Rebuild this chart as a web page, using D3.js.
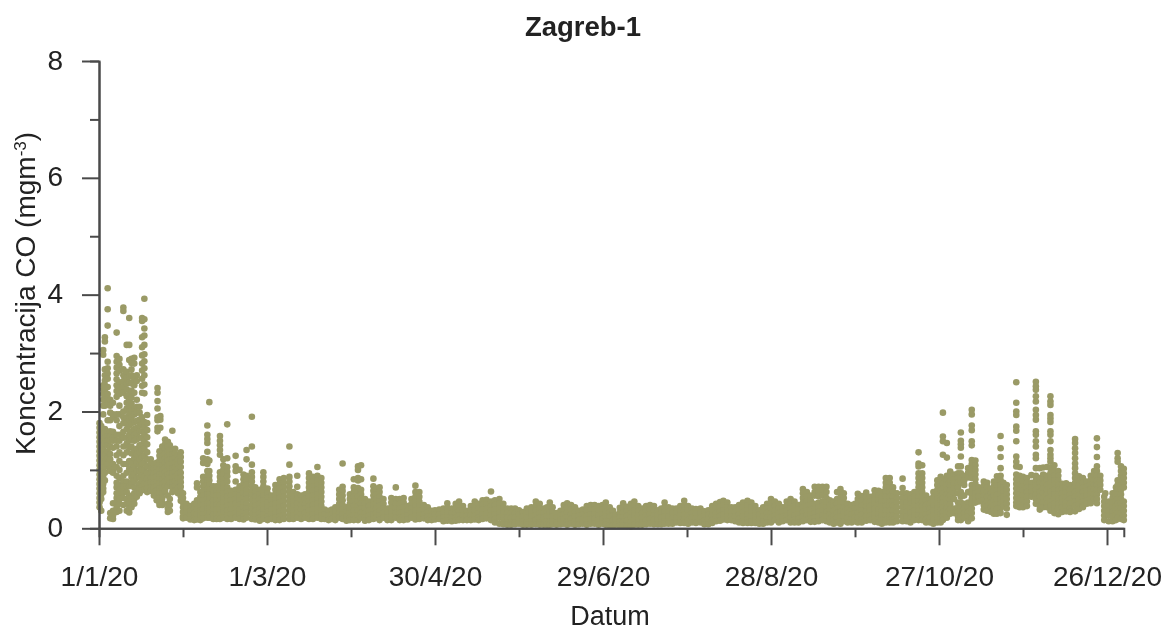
<!DOCTYPE html>
<html><head><meta charset="utf-8">
<script src="https://cdn.jsdelivr.net/npm/d3@7"></script>
<style>html,body{margin:0;background:#fff}svg{display:block;filter:blur(.45px)}text{font-family:"Liberation Sans",Arial,sans-serif;fill:#222}</style>
</head><body><svg id="c" width="1168" height="631"></svg>
<script>
const title="Zagreb-1", xTitle="Datum";
const xTickDays=[0,60,120,180,240,300,360];
const xTickLabels=["1/1/20","1/3/20","30/4/20","29/6/20","28/8/20","27/10/20","26/12/20"];
const xMinorDays=[30,90,150,210,270,330];
const yTicks=[0,2,4,6,8], yMinor=[1,3,5,7];
// each row: day of year, then the concentrations read at that day
const janFeb=[
[0.2,1.8,1.72,1.64,1.56,1.48,1.4,1.32,1.24,1.16,1.08,1,.92,.84,.76,.68,.6,.52,.44,.36],
[0.8,1.75,1.45,1.28,1.12,.96,.88,.8,.72,.64,.58,.5,.3],
[1.5,3.05,2.97,2.45,2.38,2.3,2.2,2.1,1.95,1.6,1.5,1.42,1.34,1.26,1.15,1.05,.98,.9,.84,.76,.68,.62],
[2.1,3.27,3.2,2.72,2.62,2.53,2.45,2.36,2.28,2.2,2.1,1.7,1.62,1.55,1.45,1.25,1.12,1.05,.95,.82],
[3.1,4.11,3.75,3.47,2.85,2.74,2.65,2.56,2.42,2.3,2.22,2.12,1.85,1.65,1.58,1.5,1.42,1.32,1.2,1.1],
[4,2.2,2.1,1.98,1.85,1.66,1.58,1.5,1.4,1.27,1.18,1.02,.98,.26,.17],
[5,2.15,1.95,1.9,1.65,1.55,1.5,1.38,1.1,1,.95,.43,.3,.22,.16],
[6.3,3.35,2.95,2.85,2.75,2.65,2.55,2.45,2.35,2.25,1.95,1.85,1.6,1.5,1.4,1.25,1.05,.9,.78,.7,.6,.52,.45,.36,.28],
[7.3,2.9,2.8,2.7,2.5,2.4,2.3,2.1,1.95,1.75,1.6,1.5,1.3,1.15,1,.86,.75,.66,.58,.5,.42,.3],
[8.7,3.78,3.72,2.72,2.62,2.52,2.42,2.32,2,1.9,1.8,1.65,1.55,1.4,1.25,1.1,.9,.8,.72,.62,.52,.4],
[9.9,3.14,2.68,2.58,2.48,2.38,2.26,2.15,2.05,1.9,1.8,1.7,1.55,1.45,1.3,1.1,.95,.8,.72,.62,.5,.42,.3],
[10.8,3.6,3.14,2.88,2.6,2.5,2.3,2.2,2.1,1.98,1.86,1.76,1.6,1.5,1.38,1.15,1.02,.72,.56,.44,.34,.27],
[11.6,2.9,2.83,2.72,2.62,2.48,2.36,2.24,2.14,2.02,1.9,1.8,1.66,1.54,1.4,1.28,1.12,.98,.88,.78,.52,.36],
[12.6,2.92,2.82,2.54,2.45,2.32,2.06,1.95,1.82,1.7,1.6,1.5,1.34,1.2,1.05,.92,.8,.7,.6,.5,.42],
[13.5,2.62,2.52,2.2,2.08,1.98,1.84,1.72,1.62,1.52,1.36,1.26,1.12,.98,.86,.7,.62,.54],
[14.5,2.08,1.98,1.86,1.76,1.66,1.55,1.42,1.3,1.18,1.08,.98,.88,.76,.68,.6],
[15.4,3.6,3.55,3.27,3.1,2.96,2.82,2.7,2.56,2.44,2.32,1.9,1.78,1.66,1.55,1.44,1.34,1.22,1.1,1,.9,.82,.72,.65],
[16.2,3.93,3.58,3.42,3.3,3.14,2.98,2.86,2.74,2.62,2.46,2.31,1.82,1.74,1.62,1.5,1.36,1.24,1.12,1,.88,.76,.66],
[17.2,1.94,1.8,1.68,1.56,1.44,1.3,1.18,1.06,.95,.85,.76,.68,.62,.68],
[18.5,1.18,1.1,1.02,.94,.86,.78,.7,.64],
[19.6,1.1,1.02,.94,.86,.78,.7,.62,.56],
[20.6,1.12,1.04,.96,.88,.8,.72,.64,.56,.48],
[21.6,1.32,1.24,1.16,1.08,1,.92,.84,.76,.68,.6,.52,.44,.4],
[22.6,1.4,1.32,1.24,1.16,1.08,1,.92,.84,.76,.68,.6,.52,.44,.4],
[20.9,2.4,2.32,2.18,2.05,1.9,1.85,1.72,1.66],
[21.9,1.92,1.86,1.72],
[23.6,1.52,1.44,1.36,1.28,1.2,1.12,1.04,.96,.88,.8,.72,.64],
[24.6,1.48,1.4,1.32,1.24,1.16,1.08,1,.92,.84,.72,.56,.42,.34,.28],
[25.3,1.42,1.34,1.26,1.18,1.1,1.02,.94,.86,.78,.5,.4,.3],
[26.2,1.67,1.34,1.26,1.18,1.1,1.02,.94,.86,.78,.7,.62],
[27.2,1.36,1.28,1.2,1.12,1.04,.96,.88,.8,.72,.64],
[28.2,1.25,1.17,1.09,1.01,.93,.85,.77,.69,.6],
[29.2,1.3,1.22,1.14,1.05,.95,.87,.79,.71,.63,.55,.47],
[30,.6,.52,.44,.36,.28,.2,.17],[31.2,.42,.34,.26,.18],[32.6,.38,.3,.22,.15],[34,.42,.34,.26,.18,.14],[35,.77,.7,.48,.4,.32,.24,.15],
[36.2,.62,.54,.46,.38,.3,.22,.14],[37.2,1.2,1.12,.88,.8,.72,.64,.56,.48,.4,.32,.24,.17],[38.7,1.76,1.6,1.53,1.46,1.31,1.18,1.1,.98,.9,.82,.74,.66,.58,.5,.42,.34,.26,.18],
[39.4,2.16,1.16,.98,.9,.82,.74,.66,.58,.5,.42,.34,.26,.18],[40.8,.72,.64,.56,.48,.4,.32,.24,.16],[42,.72,.64,.56,.48,.4,.32,.24,.16],
[43.2,1.58,1.5,1.42,1.34,1.26,.96,.88,.8,.72,.64,.56,.48,.4,.32,.24,.16],[44.4,1.18,1.08,1,.92,.84,.76,.68,.6,.52,.44,.36,.28,.18],[45.8,1.78,1.2,1.05,.97,.89,.8,.7,.62,.54,.46,.38,.3,.22,.16],
[47.2,.64,.56,.48,.4,.32,.24,.16],[48.8,1.24,1.06,.98,.8,.66,.58,.5,.42,.34,.26,.18],[50.2,1,.72,.64,.56,.48,.4,.32,.24,.16],[51.6,.92,.84,.76,.68,.6,.52,.44,.36,.28,.2,.15],
[52.7,1.34,1.18,.9,.82,.74,.66,.58,.5,.42,.34,.26,.18],[54.6,1.91,1.4,1.09,.96,.88,.8,.72,.64,.56,.48,.4,.32,.24,.16],[55.8,.7,.62,.54,.46,.38,.3,.22,.15],[57.4,.66,.58,.5,.42,.34,.26,.18,.13],
[58.7,.96,.88,.8,.72,.64,.56,.48,.4,.32,.24,.16],[60.2,.68,.6,.52,.44,.36,.28,.2,.14],[61.6,.56,.48,.4,.32,.24,.16],[63,.74,.66,.58,.5,.42,.34,.26,.18,.14]
];
const marMay=[
[64.5,.84,.76,.68,.6,.52,.44,.36,.28,.2,.14],[66,.86,.78,.7,.62,.54,.46,.38,.3,.22,.16],[68,1.4,1.09,.88,.8,.72,.64,.56,.48,.4,.32,.24,.16],[69.4,.62,.54,.46,.38,.3,.22,.16],
[70.8,.9,.71,.58,.5,.42,.34,.26,.18],[72.2,.56,.48,.4,.32,.24,.16],[73.6,.58,.5,.42,.34,.26,.18],[75,.94,.86,.78,.7,.62,.54,.46,.38,.3,.22,.16],[76.4,.88,.8,.72,.64,.56,.48,.4,.32,.24,.16],
[78,1.05,.9,.82,.74,.66,.58,.5,.42,.34,.26,.18],[79.4,.86,.78,.7,.62,.54,.46,.38,.3,.22,.16],[80.6,.32,.24,.16],[82,.3,.22,.14],[83.2,.32,.24,.16],[84.4,.36,.28,.2,.14],
[85.8,.66,.58,.5,.42,.34,.26,.18],[87,1.11,.71,.64,.56,.48,.4,.32,.24,.16],[88.4,.36,.28,.2,.13],[89.6,.58,.5,.42,.34,.26,.18,.14],[91,.84,.7,.62,.54,.46,.38,.3,.22,.14],
[92.5,1.06,1,.86,.82,.69,.62,.54,.46,.38,.3,.22,.14],[93.6,1.08,.84,.66,.58,.5,.42,.34,.26,.18],[95,.5,.42,.34,.26,.18,.13],[96.4,.46,.38,.3,.22,.14],
[98,.85,.72,.64,.56,.48,.4,.32,.24,.16],[99,.68,.58,.5,.42,.34,.26,.18],[100.2,.7,.62,.54,.46,.38,.3,.22,.14],[101.6,.5,.42,.34,.26,.18],[103,.34,.26,.18,.14],
[104.4,.52,.44,.36,.28,.2,.14],[106,.7,.5,.42,.34,.26,.18],[107.4,.5,.42,.34,.26,.18,.14],[108.8,.52,.44,.36,.28,.2,.14],[110.2,.38,.3,.22,.15],[111.6,.5,.42,.34,.26,.18],
[113,.73,.62,.54,.46,.38,.3,.22,.15],[114.4,.62,.54,.46,.38,.3,.22,.16],[116,.4,.32,.24,.17],[117.4,.36,.28,.2,.14],[118.8,.3,.22,.14],[120,.31,.23,.15],[121.5,.32,.24,.16],[123,.34,.26,.18,.12],
[124.4,.43,.35,.27,.19,.13],[126,.34,.26,.18,.12],[127.4,.42,.34,.26,.18,.13],[128.6,.46,.38,.3,.22,.14],[130,.38,.3,.22,.14],[131.4,.3,.22,.14],[132.8,.38,.3,.22,.14],[134.2,.46,.38,.3,.22,.15],
[135.6,.42,.34,.26,.18,.14],[137,.48,.4,.32,.24,.16],[138.4,.49,.41,.33,.25,.17],[140,.63,.46,.38,.3,.22,.14],[141.4,.48,.4,.32,.24,.16,.1],[143,.5,.42,.34,.26,.18,.08],[144.4,.42,.34,.26,.18,.1,.07],
[145.8,.34,.26,.18,.1,.06],[147.2,.34,.26,.18,.1,.06],[148.6,.34,.26,.18,.1,.07],[150,.31,.23,.15,.08],[151.4,.28,.2,.12,.06]
];
const summer=[
[152.8,.34,.26,.18,.1,.06],[154.4,.36,.28,.2,.12,.06],[156,.46,.38,.3,.22,.14,.07],[157.4,.42,.34,.26,.18,.1,.06],[158.8,.34,.26,.18,.1,.06],[160,.36,.28,.2,.12,.06],[161,.44,.36,.28,.2,.12,.06],[162,.36,.28,.2,.12,.07],
[163.4,.26,.18,.1,.06],[164.8,.3,.22,.14,.07],[166,.4,.32,.24,.16,.08],[167.2,.43,.35,.27,.19,.11,.06],[168.6,.4,.32,.24,.16,.08],[170,.36,.28,.2,.12,.06],[171.4,.3,.22,.14,.07],[172.8,.32,.24,.16,.08],
[174.2,.38,.3,.22,.14,.06],[175.6,.4,.32,.24,.16,.08],[177,.4,.32,.24,.16,.08],[178.4,.38,.3,.22,.14,.06],[179.8,.4,.32,.24,.16,.08],[181,.44,.36,.28,.2,.12,.06],[182.4,.36,.28,.2,.12,.05],[183.6,.3,.22,.14,.05],
[184.6,.23,.15,.06],[186,.35,.27,.19,.11,.05],[187.2,.43,.35,.27,.19,.11,.05],[188.6,.37,.29,.21,.13,.04],[190,.42,.34,.26,.18,.1,.03],[191.2,.46,.38,.3,.22,.14,.06],[192.6,.38,.3,.22,.14,.06],[194,.34,.26,.18,.1,.06],
[195.4,.38,.3,.22,.14,.07],[196.8,.4,.32,.24,.16,.08],[198.2,.38,.3,.22,.14,.07],[199.6,.31,.23,.15,.07],[200.8,.34,.26,.18,.1,.07],[202,.44,.36,.28,.2,.12,.08],[203.4,.36,.28,.2,.12,.08],[204.8,.34,.26,.18,.1,.08],
[206.2,.34,.26,.18,.1],[207.6,.38,.3,.22,.14,.09],[209,.47,.39,.31,.23,.15,.09],[210.4,.38,.3,.22,.14,.08],[211.8,.34,.26,.18,.1],[213.2,.33,.25,.17,.09],[214.8,.34,.26,.18,.1],[216.2,.29,.21,.13,.07],
[217.6,.31,.23,.15,.07],[219,.38,.3,.22,.14,.09],[220.4,.42,.34,.26,.18,.12],[221.8,.45,.37,.29,.21,.13],[223,.47,.39,.31,.23,.15],[224.4,.44,.36,.28,.2,.14],[225.8,.36,.28,.2,.14],[227.2,.36,.28,.2,.12],
[228.6,.4,.32,.24,.16,.1],[230,.44,.36,.28,.2,.12,.09],[231.6,.47,.39,.31,.23,.15,.09],[233,.44,.36,.28,.2,.12,.09],[234.4,.38,.3,.22,.14,.09],[235.8,.31,.23,.15,.08],[237.2,.36,.28,.2,.12,.08],[238.6,.42,.34,.26,.18,.1],
[240,.5,.42,.34,.26,.18,.1],[241.4,.46,.38,.3,.22,.14],[242.8,.42,.34,.26,.18,.1],[244.2,.36,.28,.2,.12],[245.6,.46,.38,.3,.22,.14],[247,.5,.42,.34,.26,.18,.1],[248.4,.46,.38,.3,.22,.14,.1],[249.8,.4,.32,.24,.16,.1]
];
const autumn=[
[251.4,.67,.6,.52,.44,.36,.28,.2,.12],[252.8,.62,.54,.46,.38,.3,.22,.14],[254.2,.56,.48,.4,.32,.24,.16,.11],[255.6,.71,.62,.56,.42,.34,.26,.18,.11],[257,.71,.64,.55,.44,.36,.28,.2,.12],[258.4,.71,.64,.56,.46,.38,.3,.22,.14],
[259.8,.71,.62,.52,.44,.36,.28,.2,.12],[261,.48,.4,.32,.24,.16,.1],[262.4,.46,.38,.3,.22,.14,.08],[263.6,.62,.5,.42,.34,.26,.18,.1],[264.8,.67,.6,.52,.44,.36,.28,.2,.12,.08],[266,.6,.52,.44,.36,.28,.2,.12],
[267.4,.42,.34,.26,.18,.1],[268.8,.4,.32,.24,.16,.1],[270,.42,.34,.26,.18,.12],[271,.59,.5,.42,.34,.26,.18,.1],[272.4,.55,.47,.39,.31,.23,.15,.1],[274,.61,.53,.45,.37,.29,.21,.13],[275.4,.54,.46,.38,.3,.22,.14],
[277,.65,.57,.49,.41,.33,.25,.17,.11],[278.4,.64,.56,.48,.4,.32,.24,.16,.1],[279.6,.62,.54,.46,.38,.3,.22,.14,.08],[281,.86,.78,.7,.62,.54,.46,.38,.3,.22,.14,.1],[282.4,.86,.78,.7,.62,.54,.46,.38,.3,.22,.14,.1],[283.6,.7,.62,.54,.46,.38,.3,.22,.14,.1],
[285,.6,.52,.44,.36,.28,.2,.12],[287,.85,.69,.6,.52,.44,.36,.28,.2,.12],[288.4,.6,.52,.44,.36,.28,.2,.12],[289.8,.58,.5,.42,.34,.26,.18,.1],[291.2,.62,.54,.46,.38,.3,.22,.14],[292.7,1.3,1.11,1.06,.94,.86,.78,.7,.62,.54,.46,.38,.3,.22,.14],[294,1.08,.94,.86,.78,.7,.62,.54,.46,.38,.3,.22,.14],
[295.4,.56,.48,.4,.32,.24,.16,.1],[296.8,.5,.42,.34,.26,.18,.1],[298,.62,.54,.46,.38,.3,.22,.14,.08],[299.4,.82,.74,.66,.58,.5,.42,.34,.26,.18,.1],[300.6,.88,.8,.72,.64,.56,.48,.4,.32,.24,.16,.1],[301.4,1.98,1.57,1.49,1.26,.84,.76,.68,.6,.52,.44,.36,.28,.2,.14],[302.8,1.46,1.21,.9,.82,.74,.66,.58,.5,.42,.34,.26,.18],
[304,.97,.89,.81,.73,.65,.57,.49,.41,.33,.25],[305.4,.92,.84,.76,.68,.6,.5,.34,.26],[306.8,1.06,.94,.86,.78,.7,.6,.44,.36,.28,.2,.14],[307.8,1.64,1.5,1.44,1.38,1.23,1.06,.94,.86,.78,.62,.54,.44,.36,.28,.2,.14],[309,.9,.82,.74,.56,.42,.34,.26,.18],[310.4,1.03,.95,.87,.62,.44,.36,.28,.2,.12],
[311.7,2.03,1.95,1.76,1.68,1.49,1.42,1.17,1.1,1.02,.94,.86,.74,.66,.58,.5,.42,.34,.26,.17],[313,1.16,1.08,1,.92,.84,.76,.68,.6,.52,.44],[314.2,.7,.62,.54,.46],[316,.8,.72,.64,.56,.48,.4,.32],[317.2,.78,.7,.62,.54,.46,.38,.3],[318.6,.68,.6,.52,.44,.36,.28],[319.6,.8,.72,.64,.56,.48,.4,.32,.25],
[320.7,.89,.81,.73,.65,.57,.49,.41,.33,.25],[322,1.58,1.37,1.22,1.03,.9,.82,.74,.66,.58,.5,.42,.34,.26],[323,.78,.7,.62,.54,.46,.38],[324.2,.74,.66,.58,.5,.42,.34,.23]
];
const decEnd=[
[327.6,2.5,2.15,2,1.94,1.74,1.67,1.49,1.23,1.14,1.06,.92,.84,.76,.68,.6,.52,.44,.38],[328.8,1.05,.9,.82,.74,.66,.58,.5,.42,.36],[330,.88,.8,.72,.64,.56,.48,.4,.36],[331.4,.86,.78,.7,.62,.54,.46,.38],
[333,.91,.78,.7,.62,.54],[334.6,2.51,2.43,2.37,2.26,2.17,2.03,1.94,1.86,1.66,1.6,1.49,1.4,1.26,1.2,1.03,.9,.82,.74,.66,.58,.5,.42],[336,1.03,.86,.78,.7,.62,.54,.46,.38,.32],[337.2,1.04,.92,.84,.76,.68,.6,.52,.44,.36],[338.6,1.05,.9,.82,.74,.66,.58,.5,.42,.36],
[339.8,2.26,2.17,2.11,1.94,1.88,1.82,1.66,1.6,1.49,1.34,1.26,1.2,1.14,1.03,.94,.86,.78,.7,.62,.54,.46,.38,.3],[341.2,1.08,.98,.9,.82,.74,.66,.58,.5,.42,.34,.26],[342.6,.98,.9,.82,.74,.66,.58,.5,.42,.34,.24],[344,.76,.68,.6,.52,.44,.36,.28],[345.4,.77,.69,.61,.53,.45,.37,.29],[346.8,.74,.66,.58,.5,.42,.34,.28],
[348.6,1.53,1.46,1.37,1.29,1.2,1.11,1.03,.94,.86,.78,.7,.62,.54,.46,.38,.29],[350,.89,.81,.73,.65,.57,.49,.41,.33],[351.4,.86,.78,.7,.62,.54,.46,.38,.36],[352.8,.8,.72,.64,.56,.48,.42],[354.2,.9,.82,.74,.66,.58,.5,.43],[355.4,.98,.9,.82,.74,.66,.58,.5],
[356.4,1.54,1.39,1.22,1.06,.98,.9,.82,.74,.66,.58,.5,.43],[357.6,.9,.82,.74,.66],[359,.54,.46,.38,.3,.22,.14],[359.4,.6],[360.6,.46,.38,.3,.22,.12],[362,.6,.52,.44,.36,.28,.2,.12],[363.2,.7,.62,.54,.46,.38,.3,.22,.14],[363.8,1.29,1.2,1.14,.82,.74,.66,.58,.5,.42,.34,.26,.18],
[365,1.06,.98,.9,.82,.74,.66,.58,.5,.42,.34,.26,.16],[366,1.02,.94,.86,.78,.7,.46,.38,.3,.22,.14]
];

const svg=d3.select("#c");
const x=d3.scaleLinear().domain([0,366]).range([99,1123.8]);
const y=d3.scaleLinear().domain([0,8]).range([528.3,61]);
const rows=[...janFeb,...marMay,...summer,...autumn,...decEnd];
const pts=rows.flatMap(r=>r.slice(1).map(v=>({d:r[0],v})));
svg.append("g").selectAll("circle").data(pts).join("circle")
  .attr("cx",p=>x(p.d)).attr("cy",p=>y(p.v)).attr("r",3.3).attr("fill","#9a9a66");

const fs=28, axisCol="#4a4a4a";
const gy=svg.append("g").attr("transform","translate(99,0)");
gy.call(d3.axisLeft(y).tickValues(yTicks).tickSize(17).tickPadding(19).tickSizeOuter(0).tickFormat(d3.format("d")));
gy.append("g").call(d3.axisLeft(y).tickValues(yMinor).tickSize(9).tickFormat(""));
const gx=svg.append("g").attr("transform","translate(0,528.3)");
gx.call(d3.axisBottom(x).tickValues(xTickDays).tickSize(17).tickPadding(21).tickSizeOuter(0).tickFormat((d,i)=>xTickLabels[i]));
gx.append("g").call(d3.axisBottom(x).tickValues(xMinorDays).tickSize(9).tickFormat(""));
svg.selectAll(".domain").attr("stroke",axisCol).attr("stroke-width",2);
svg.selectAll(".tick line").attr("stroke",axisCol).attr("stroke-width",2);
svg.selectAll(".tick text").attr("font-size",fs).attr("fill","#222");
gy.selectAll(".tick text").attr("dy","8");
svg.append("text").attr("x",583).attr("y",36).attr("text-anchor","middle").attr("font-weight","bold").attr("font-size",27.5).text(title);
svg.append("text").attr("x",610).attr("y",625).attr("text-anchor","middle").attr("font-size",27).text(xTitle);
const yl=svg.append("text").attr("transform","translate(35,293.5) rotate(-90)").attr("text-anchor","middle").attr("font-size",28);
yl.append("tspan").text("Koncentracija CO (mgm");
yl.append("tspan").attr("dy",-9).attr("font-size",17).text("-3");
yl.append("tspan").attr("dy",9).text(")");
</script></body></html>
